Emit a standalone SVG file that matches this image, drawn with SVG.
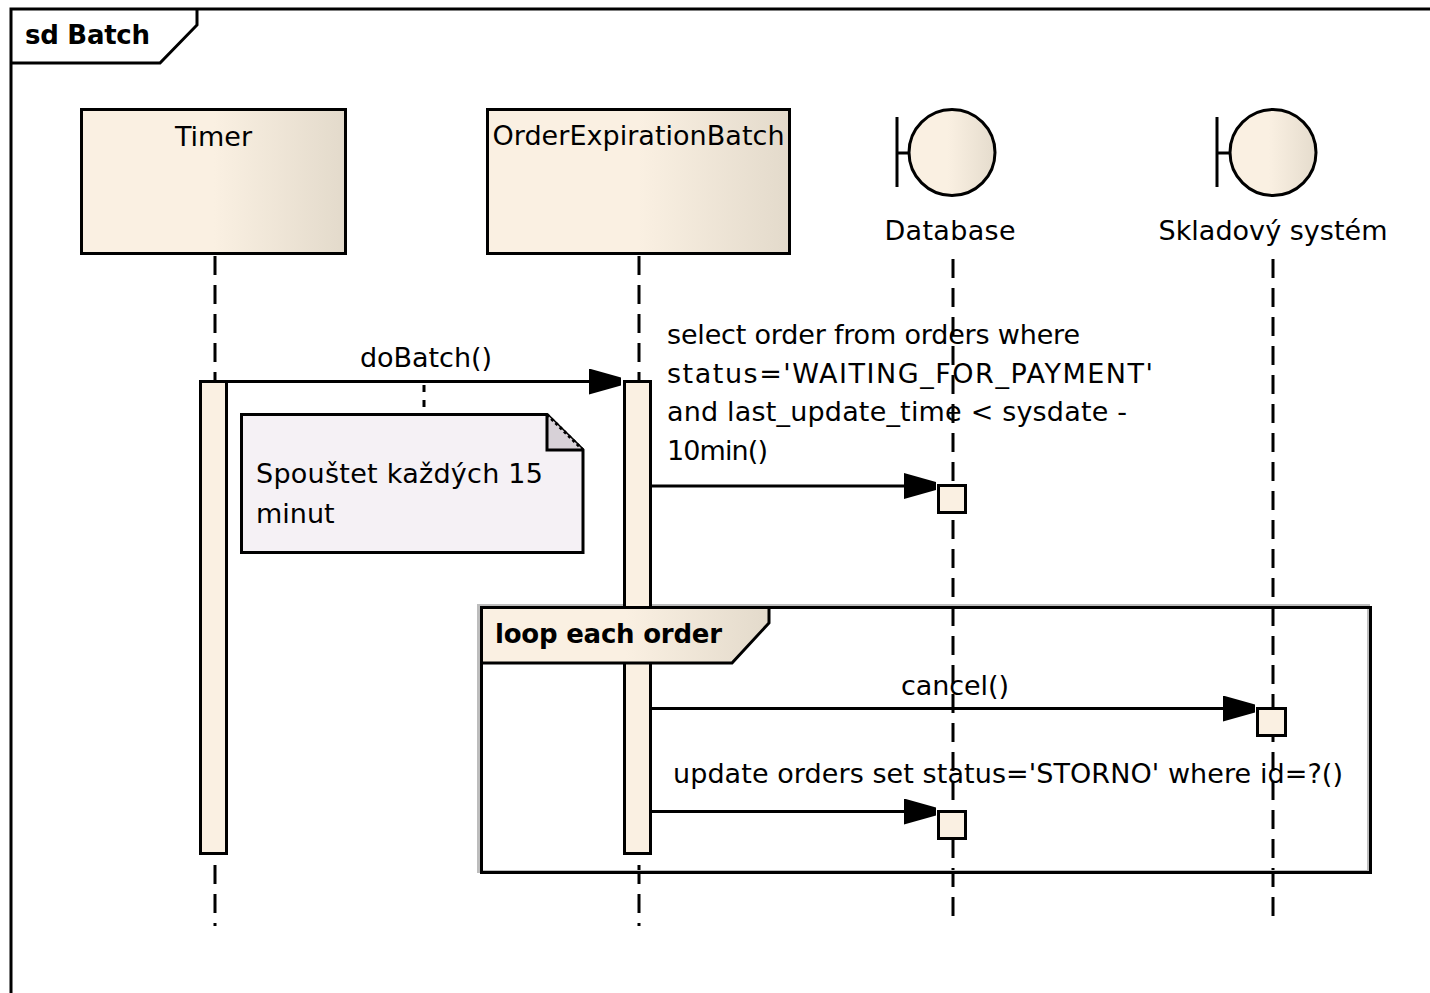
<svg xmlns="http://www.w3.org/2000/svg" width="1430" height="993" viewBox="0 0 1430 993">
<defs>
  <linearGradient id="gBox" x1="0" y1="0" x2="1" y2="0">
    <stop offset="0" stop-color="#FAF0E2"/>
    <stop offset="0.5" stop-color="#FAF0E2"/>
    <stop offset="1" stop-color="#E3DACB"/>
  </linearGradient>
  <linearGradient id="gCirc" x1="0" y1="0" x2="1" y2="0">
    <stop offset="0" stop-color="#FAF0E2"/>
    <stop offset="0.45" stop-color="#FAF0E2"/>
    <stop offset="1" stop-color="#E5DCCD"/>
  </linearGradient>
  <marker id="arr" viewBox="0 0 32 26" markerWidth="32" markerHeight="26" refX="32" refY="13" markerUnits="userSpaceOnUse" orient="auto">
    <path d="M0,0 L32,9 L32,17 L0,26 z" fill="#000"/>
  </marker>
  <style>
    text { font-family: "DejaVu Sans", "Liberation Sans", sans-serif; font-size: 27px; fill: #000; }
    .b { font-weight: bold; font-size: 26px; }
    .ln { stroke: #000; stroke-width: 3; fill: none; }
    .life { stroke: #000; stroke-width: 3; stroke-dasharray: 19 10; fill: none; }
    .box { fill: url(#gBox); stroke: #000; stroke-width: 3; }
    .act { fill: #FAF0E2; stroke: #000; stroke-width: 3; }
    .msg { stroke: #000; stroke-width: 3; fill: none; marker-end: url(#arr); }
    .mid { text-anchor: middle; }
  </style>
</defs>
<rect width="1430" height="993" fill="#fff"/>

<g id="frame">
  <path class="ln" d="M11,993 L11,9 L1430,9"/>
  <path class="ln" d="M11,63 L160,63 L197,25 L197,9"/>
  <text class="b" x="25" y="44" textLength="125">sd Batch</text>
</g>

<g id="lifelines">
  <line class="life" x1="215" y1="256" x2="215" y2="926"/>
  <line class="life" x1="639" y1="256" x2="639" y2="926"/>
  <line class="life" x1="953" y1="259" x2="953" y2="916"/>
  <line class="life" x1="1273" y1="259" x2="1273" y2="916"/>
</g>

<g id="loop-frame">
  <rect x="478.5" y="605.5" width="890" height="266" fill="none" stroke="#BDBDBD" stroke-width="3"/>
  <rect x="481.5" y="607.5" width="889" height="265" fill="none" stroke="#000" stroke-width="3"/>
</g>

<g id="timer">
  <rect class="box" x="81.5" y="109.5" width="264" height="144"/>
  <text class="mid" x="213.5" y="146">Timer</text>
</g>

<g id="orderExpirationBatch">
  <rect class="box" x="487.5" y="109.5" width="302" height="144"/>
  <text class="mid" x="638.5" y="145" textLength="292">OrderExpirationBatch</text>
</g>

<g id="database">
  <line class="ln" x1="897" y1="117" x2="897" y2="187"/>
  <line class="ln" x1="897" y1="153" x2="909" y2="153"/>
  <circle cx="952" cy="152.5" r="43" fill="url(#gCirc)" stroke="#000" stroke-width="3"/>
  <text class="mid" x="950" y="240" textLength="131">Database</text>
</g>

<g id="skladovy">
  <line class="ln" x1="1217" y1="117" x2="1217" y2="187"/>
  <line class="ln" x1="1217" y1="153" x2="1229" y2="153"/>
  <circle cx="1273" cy="152.5" r="43" fill="url(#gCirc)" stroke="#000" stroke-width="3"/>
  <text class="mid" x="1273" y="240" textLength="229">Skladový systém</text>
</g>

<g id="activations">
  <rect class="act" x="200.5" y="381.5" width="26" height="472"/>
  <rect class="act" x="624.5" y="381.5" width="26" height="472"/>
  <rect class="act" x="938.5" y="485.5" width="27" height="27"/>
  <rect class="act" x="1257.5" y="708.5" width="28" height="27"/>
  <rect class="act" x="938.5" y="811.5" width="27" height="27"/>
</g>

<g id="loop-tab">
  <path d="M481.5,607.5 L769,607.5 L769,623 L732,663 L481.5,663 z" fill="url(#gBox)" stroke="#000" stroke-width="3"/>
  <text class="b" x="495" y="643" textLength="227">loop each order</text>
</g>

<g id="connectors">
  <line class="msg" x1="226" y1="381.5" x2="621" y2="381.5"/>
  <line class="msg" x1="651" y1="486" x2="936" y2="486"/>
  <line class="msg" x1="651" y1="708.5" x2="1255" y2="708.5"/>
  <line class="msg" x1="651" y1="811.5" x2="936" y2="811.5"/>
  <line x1="424" y1="385" x2="424" y2="414" stroke="#000" stroke-width="3" stroke-dasharray="7 8"/>
</g>

<g id="labels">
  <text class="mid" x="426" y="367" textLength="132">doBatch()</text>
  <text x="667" y="344" textLength="413">select order from orders where</text>
  <text x="667" y="382.5" textLength="486">status='WAITING_FOR_PAYMENT'</text>
  <text x="667" y="421" textLength="460">and last_update_time &lt; sysdate -</text>
  <text x="667" y="459.5" textLength="101">10min()</text>
  <text class="mid" x="955" y="695" textLength="108">cancel()</text>
  <text x="673" y="783" textLength="670">update orders set status='STORNO' where id=?()</text>
</g>

<g id="note">
  <path d="M241.5,414.5 L547,414.5 L583,450 L583,552.5 L241.5,552.5 z" fill="#F5F1F5" stroke="#000" stroke-width="3"/>
  <path d="M547,414.5 L547,450 L583,450 z" fill="#D7D1D7"/>
  <path d="M547,414.5 L547,450 L583,450" fill="none" stroke="#000" stroke-width="3"/>
  <line x1="547" y1="414.5" x2="583" y2="450" stroke="#000" stroke-width="3" stroke-dasharray="3 3"/>
  <text x="256" y="483" textLength="287">Spouštet každých 15</text>
  <text x="256" y="523">minut</text>
</g>
</svg>
